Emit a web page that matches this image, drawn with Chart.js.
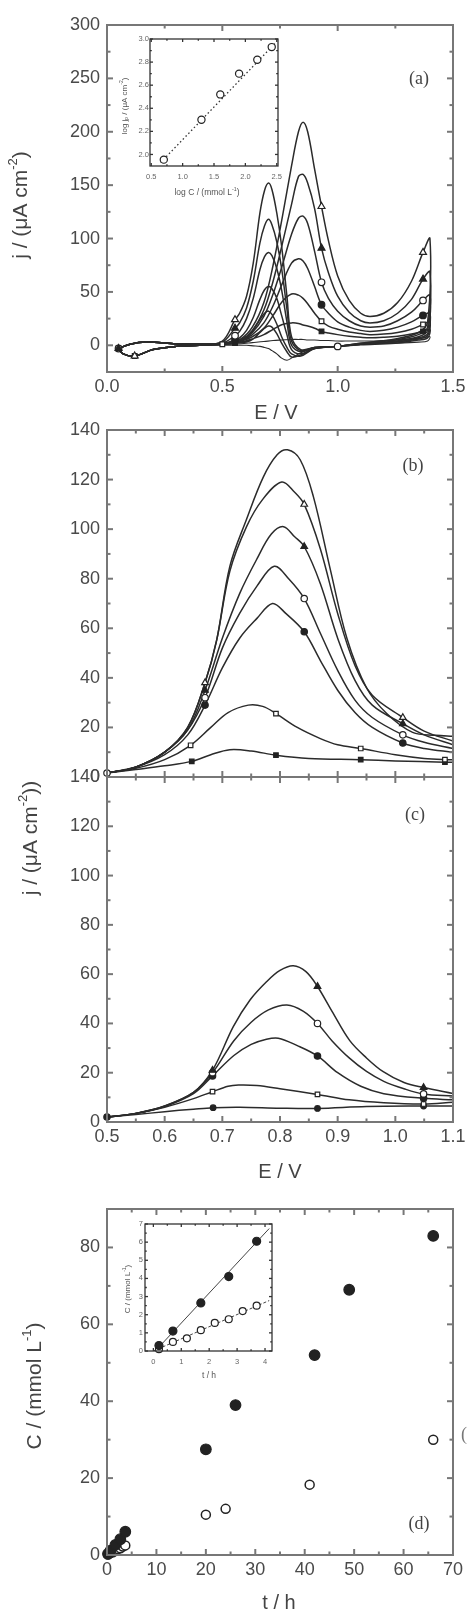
<!DOCTYPE html>
<html><head><meta charset="utf-8">
<script src="https://cdn.jsdelivr.net/npm/chart.js@4.4.0/dist/chart.umd.min.js"></script>
<style>
html,body{margin:0;padding:0;background:#fff;}
#wrap{position:relative;width:467px;height:1610px;overflow:hidden;background:#fff;}
canvas{position:absolute;left:0;}
</style></head><body><div id="wrap">
<canvas id="cA" style="top:0px" width="467" height="430"></canvas>
<canvas id="cAi" style="top:0px" width="467" height="430"></canvas>
<canvas id="cB" style="top:400px" width="467" height="400"></canvas>
<canvas id="cC" style="top:760px" width="467" height="450"></canvas>
<canvas id="cD" style="top:1180px" width="467" height="430"></canvas>
<canvas id="cDi" style="top:1180px" width="467" height="430"></canvas>
</div>
<script>
// ---------------- DATA ----------------
// Panel (a): cyclic voltammograms (forward + reverse scan), E / V and j / (uA cm-2)
const aE = [0.05,0.1,0.17,0.3,0.45,0.52,0.58,0.63,0.68,0.72,0.76,0.8,0.83,0.85,0.87,0.9,0.93,0.96,1.0,1.05,1.1,1.14,1.2,1.26,1.32,1.37,1.4,
            1.39,1.35,1.25,1.1,1.0,0.9,0.84,0.8,0.78,0.757,0.736,0.715,0.7,0.683,0.663,0.634,0.605,0.575,0.555,0.5,0.4,0.3,0.2,0.12,0.07,0.05];
const aJ0 = [-3,1,3,1.5,1,2,6,17,40,75,120,168,200,209,200,165,130,98,65,42,30,27,30,40,60,87,100,
             22,12,6,2,-1,-2,-4,8,46,93,124,146,152,145,124,77,46,30,24,4,0,-1,-4,-10,-8,-3];
const aJ1 = [-3,1,3,1.5,1,2,5,14,33,60,95,132,158,160,152,128,91,68,46,31,23,21,23,30,43,62,69,
             17,10,5,2,-1,-2,-5,4,34,72,97,113,118,112,96,60,35,21,16,3,0,-1,-4,-10,-8,-3];
const aJ2 = [-3,1,3,1.5,1,2,5,12,27,48,75,104,119,121,114,88,59,44,32,23,18,17,18,23,31,42,47,
             14,8,4,1,-1,-2,-6,0,22,52,72,84,87,83,71,44,25,13,9,2,0,-1,-4,-10,-8,-3];
const aJ3 = [-3,1,3,1.5,1,2,4,10,21,37,58,77,81,79,72,55,38,30,22,17,14,13,14,17,22,28,30,
             11,7,3,1,-1,-3,-8,-4,10,28,44,53,55,52,43,26,14,7,5,1.5,0,-1,-4,-10,-8,-3];
const aJ4 = [-3,1,3,1.5,1,2,4,8,16,28,41,48,47,44,39,30,22.5,18,15,12.5,11,10,10.5,12,15,19.5,22,
             9,6,3,1,-1,-3,-10,-8,-2,8,20,29,32,30,24,14,7,4,3,1,0,-1,-4,-10,-8,-3];
const aJ5 = [-3,1,3,1.5,1,1.5,3,6,10,15,19.5,21,20.5,19,18,16,13,11.5,10,8.5,7.5,7,7.5,8.5,10.5,13,15,
             7,5,2,0.5,-1,-3,-9,-11,-6,2,11,17,18,16,12,6,3,2.5,2,1,0,-1,-4,-10,-8,-3];
const aJb = [-3,1,3,1.5,1,1,1.5,2.5,3.5,4.5,5,5.5,5.5,5.5,5,5,4.5,4.5,4,4,4,4,4.5,5,6,7,8,
             4,3,2,1,-1,-3,-7,-12,-14,-12,-8,-5,-3,-2,-1,-0.5,0,0,0,0,0,-1,-4,-10,-8,-3];
// markers on the (a) curves
const aM0E = [0.93,1.37,0.555,0.12], aM0J = [130,87,24,-10];
const aM1E = [0.93,1.37,0.555,0.05], aM1J = [91,62,16,-3];
const aM2E = [0.93,1.37,0.555,1.0,0.05], aM2J = [59,42,9,-1,-3];
const aM3E = [0.93,1.37,0.555], aM3J = [38,28,5];
const aM4E = [0.93,1.37,0.5,0.12], aM4J = [22.5,19.5,1,-10];
const aM5E = [0.93,1.37,0.555,0.05], aM5J = [13,13,2,-3];

// Inset (a): log jp vs log C
const insALogC = [0.7,1.3,1.6,1.9,2.19,2.42];
const insALogJ = [1.955,2.30,2.52,2.70,2.82,2.93];
const insAFitX = [0.65,2.47], insAFitY = [1.93,2.96];

// Panel (b)
const b0E = [0.5,0.55,0.6,0.64,0.67,0.69,0.713,0.742,0.771,0.795,0.813,0.835,0.858,0.887,0.916,0.95,0.985,1.03,1.07,1.1];
const b0J = [1.6,4,10,20,38,55,85,104,121,130,132,128,113,84,56,36,25.6,18,16.8,16.4];
const b1E = [0.5,0.55,0.6,0.64,0.67,0.69,0.713,0.742,0.77,0.803,0.825,0.842,0.87,0.9,0.93,0.96,1.013,1.05,1.1];
const b1J = [1.6,4,10,20,38,55,83,101,112,119,115,110,92,66,45,33,24,18.5,14.5];
const b2E = [0.5,0.55,0.6,0.64,0.67,0.7,0.73,0.76,0.785,0.806,0.825,0.842,0.87,0.9,0.93,0.96,1.013,1.05,1.1];
const b2J = [1.6,4,10,19,35,56,74,88,98,101,97,93,78,56,39,29,21.5,17,13];
const b3E = [0.5,0.55,0.6,0.64,0.67,0.7,0.73,0.76,0.79,0.815,0.842,0.87,0.9,0.93,0.96,1.013,1.05,1.1];
const b3J = [1.6,4,10,19,32,52,66,77,85,80,72,58,43,31,24,17,14,11.5];
const b4E = [0.5,0.55,0.6,0.64,0.67,0.7,0.73,0.76,0.787,0.81,0.842,0.87,0.9,0.93,0.96,1.013,1.05,1.1];
const b4J = [1.6,4,9,17,29,44,56,64,70,66,58.6,47,35,26,20,13.7,11.5,10];
const b5E = [0.5,0.55,0.6,0.645,0.68,0.71,0.745,0.77,0.793,0.83,0.87,0.9,0.94,1.0,1.05,1.086,1.1];
const b5J = [1.6,3.5,7,12.8,20,26,29,28.5,25.6,20,15.5,13,11.5,9,7.5,7,7];
const b6E = [0.5,0.55,0.6,0.647,0.68,0.713,0.75,0.793,0.85,0.94,1.0,1.086,1.1];
const b6J = [1.6,3,4.5,6.3,9,11,10.5,8.8,7.5,7,6.5,6,6];
const bM1E = [0.67,0.842,1.013], bM1J = [38,110,24];
const bM2E = [0.67,0.842,1.013], bM2J = [35,93,21.5];
const bM3E = [0.67,0.842,1.013,0.5], bM3J = [32,72,17,1.6];
const bM4E = [0.67,0.842,1.013], bM4J = [29,58.6,13.7];
const bM5E = [0.645,0.793,0.94,1.086], bM5J = [12.8,25.6,11.5,7];
const bM6E = [0.647,0.793,0.94,1.086], bM6J = [6.3,8.8,7,6];

// Panel (c)
const c0E = [0.5,0.55,0.6,0.65,0.683,0.719,0.748,0.777,0.8,0.823,0.845,0.865,0.89,0.921,0.95,0.979,1.015,1.049,1.1];
const c0J = [2,3.5,6.5,12,21,38.7,49.5,57,61.5,63.4,61,55,45,33,26,20.4,16,14,11.6];
const c1E = [0.5,0.55,0.6,0.65,0.683,0.72,0.75,0.78,0.812,0.84,0.865,0.89,0.92,0.95,0.98,1.015,1.049,1.1];
const c1J = [2,3.5,6.5,12,20,33,40.5,45.5,47.5,45,40,33,26,20.5,16.5,13.5,11.4,10.5];
const c2E = [0.5,0.55,0.6,0.65,0.683,0.72,0.75,0.775,0.797,0.83,0.865,0.9,0.94,0.98,1.049,1.1];
const c2J = [2,3.5,6.3,11.5,18.7,27,31.5,33.5,34,31,26.8,20,14.5,11.5,9.6,9];
const c3E = [0.5,0.55,0.6,0.65,0.683,0.71,0.728,0.76,0.8,0.865,0.92,0.98,1.049,1.1];
const c3J = [2,3.5,6,9.5,12.3,14.5,15,14.8,13.5,11.2,9,7.8,7.3,8];
const c4E = [0.5,0.55,0.6,0.65,0.684,0.73,0.8,0.865,0.95,1.049,1.1];
const c4J = [2,3,4.2,5.2,5.8,6,5.6,5.5,6.3,6.5,6.5];
const cM0E = [0.683,0.865,1.049], cM0J = [21,55,14];
const cM1E = [0.683,0.865,1.049], cM1J = [20,40,11.4];
const cM2E = [0.683,0.865,1.049,0.5], cM2J = [18.7,26.8,9.6,2];
const cM3E = [0.683,0.865,1.049], cM3J = [12.3,11.2,7.3];
const cM4E = [0.684,0.865,1.049], cM4J = [5.8,5.5,6.5];

// Panel (d): C / (mmol L-1) vs t / h
const dFilledT = [0.2,0.7,1.7,2.7,3.7,20,26,42,49,66];
const dFilledC = [0.3,1.1,2.65,4.1,6.05,27.5,39,52,69,83];
const dOpenT = [0.2,0.7,1.2,1.7,2.2,2.7,3.2,3.7,20,24,41,66];
const dOpenC = [0.1,0.5,0.7,1.15,1.55,1.75,2.2,2.5,10.5,12,18.3,30];
const insDFitFilledT = [0.1,4.15], insDFitFilledC = [0.05,6.75];
const insDFitOpenT = [0.0,4.15], insDFitOpenC = [0.0,2.78];

// Tick values / labels
const aXMajor = [0,0.5,1,1.5], aXMinor = [0.25,0.75,1.25], aXText = ['0.0','0.5','1.0','1.5'];
const aYMajor = [0,50,100,150,200,250,300], aYMinor = [25,75,125,175,225,275];
const aYText = ['0','50','100','150','200','250','300'];
const eXMajor = [0.5,0.6,0.7,0.8,0.9,1.0,1.1], eXMinor = [0.55,0.65,0.75,0.85,0.95,1.05];
const eXText = ['0.5','0.6','0.7','0.8','0.9','1.0','1.1'];
const jYMajor = [0,20,40,60,80,100,120,140], jYMinor = [10,30,50,70,90,110,130];
const jYText = ['0','20','40','60','80','100','120','140'];
const dXMajor = [0,10,20,30,40,50,60,70], dXMinor = [5,15,25,35,45,55,65];
const dXText = ['0','10','20','30','40','50','60','70'];
const dYMajor = [0,20,40,60,80], dYMinor = [10,30,50,70];
const dYText = ['0','20','40','60','80'];
const iaXMajor = [0.5,1.0,1.5,2.0,2.5], iaXMinor = [0.75,1.25,1.75,2.25];
const iaXText = ['0.5','1.0','1.5','2.0','2.5'];
const iaYMajor = [2.0,2.2,2.4,2.6,2.8,3.0], iaYMinor = [2.1,2.3,2.5,2.7,2.9];
const iaYText = ['2.0','2.2','2.4','2.6','2.8','3.0'];
const idXMajor = [0,1,2,3,4], idXMinor = [0.5,1.5,2.5,3.5], idXText = ['0','1','2','3','4'];
const idYMajor = [0,1,2,3,4,5,6,7], idYMinor = [0.5,1.5,2.5,3.5,4.5,5.5,6.5];
const idYText = ['0','1','2','3','4','5','6','7'];

// ---------------- HELPERS ----------------
const SANS = '"Liberation Sans", Arial, sans-serif';
const SERIF = '"Liberation Serif", "Times New Roman", serif';
const LINE = '#2b2b2b';
function zip(xs, ys){ return xs.map((x,i)=>({x:x,y:ys[i]})); }
function lineDS(xs, ys, w, extra){ return Object.assign({data:zip(xs,ys), showLine:true, borderColor:LINE, borderWidth:w||1.5, pointRadius:0, tension:0.35, fill:false, order:2}, extra||{}); }
function markDS(xs, ys, style, filled, r){ return {data:zip(xs,ys), showLine:false, pointStyle:style, pointRadius:r||3.5, pointBackgroundColor:filled?'#222':'#fff', pointBorderColor:'#222', pointBorderWidth:1.2, order:0, clip:false}; }

function drawRich(ctx, segs, x, y, size, fam, color, rot){
  ctx.save(); ctx.translate(x,y); if(rot) ctx.rotate(rot);
  let w=0;
  const parts = segs.map(s=>{ const k=s[1]||0; const fs = k? size*0.62 : size; ctx.font = fs+'px '+fam; const ww = ctx.measureText(s[0]).width; w+=ww; return {t:s[0],k:k,fs:fs,ww:ww}; });
  let cx=-w/2;
  ctx.fillStyle=color; ctx.textBaseline='middle'; ctx.textAlign='left';
  for(const p of parts){ ctx.font=p.fs+'px '+fam; const dy = p.k===1? -size*0.36 : (p.k===2? size*0.22 : 0); ctx.fillText(p.t,cx,dy); cx+=p.ww; }
  ctx.restore();
}

function deco(o){
  return {
    id: o.id,
    beforeDatasetsDraw(chart){
      if(o.white){ const a=chart.chartArea, c=chart.ctx; c.save(); c.fillStyle='#fff'; c.fillRect(a.left,a.top,a.right-a.left,a.bottom-a.top); c.restore(); }
    },
    afterDatasetsDraw(chart){
      const c=chart.ctx, a=chart.chartArea, xs=chart.scales.x, ys=chart.scales.y;
      c.save();
      c.strokeStyle=o.frame; c.lineWidth=o.lw;
      const ln=(x1,y1,x2,y2)=>{ c.beginPath(); c.moveTo(x1,y1); c.lineTo(x2,y2); c.stroke(); };
      const tx=(vals,len)=>{ for(const v of vals){ const p=xs.getPixelForValue(v); ln(p,a.bottom,p,a.bottom-len); ln(p,a.top,p,a.top+len); } };
      const ty=(vals,len)=>{ for(const v of vals){ const p=ys.getPixelForValue(v); ln(a.left,p,a.left+len,p); ln(a.right,p,a.right-len,p); } };
      tx(o.xMaj,o.maj); tx(o.xMin,o.min); ty(o.yMaj,o.maj); ty(o.yMin,o.min);
      c.strokeRect(a.left,a.top,a.right-a.left,a.bottom-a.top);
      c.fillStyle=o.lc; c.font=o.fs+'px '+SANS; c.textBaseline='middle';
      if(o.xText){ c.textAlign='center'; o.xVals.forEach((v,i)=>{ c.fillText(o.xText[i], xs.getPixelForValue(v), a.bottom+o.xGap); }); }
      if(o.yText){ c.textAlign='right'; o.yVals.forEach((v,i)=>{ c.fillText(o.yText[i], a.left-o.yGap, ys.getPixelForValue(v)); }); }
      c.restore();
      for(const t of (o.texts||[])) drawRich(chart.ctx, t.segs, t.x, t.y, t.size, t.fam||SANS, t.color||'#444', t.rot||0);
    }
  };
}

function mk(id, datasets, xr, yr, pad, plug){
  return new Chart(document.getElementById(id), {
    type:'scatter', data:{datasets:datasets},
    options:{responsive:false, animation:false, devicePixelRatio:1, events:[],
      layout:{padding:pad},
      plugins:{legend:{display:false}, tooltip:{enabled:false}},
      scales:{x:{type:'linear',min:xr[0],max:xr[1],display:false}, y:{type:'linear',min:yr[0],max:yr[1],display:false}}},
    plugins:[plug]
  });
}
const ROT = -Math.PI/2;
const LC = '#4a4a4a', FR = '#777';

// ---------------- PANEL (a) ----------------
mk('cA', [
  markDS(aM0E,aM0J,'triangle',false,4), markDS(aM1E,aM1J,'triangle',true,4), markDS(aM2E,aM2J,'circle',false,3.3),
  markDS(aM3E,aM3J,'circle',true,3.3), markDS(aM4E,aM4J,'rect',false,3.3), markDS(aM5E,aM5J,'rect',true,3.3),
  lineDS(aE,aJ0), lineDS(aE,aJ1), lineDS(aE,aJ2), lineDS(aE,aJ3), lineDS(aE,aJ4), lineDS(aE,aJ5), lineDS(aE,aJb,1.1)
], [0,1.5], [-25,300], {left:107,right:14,top:25,bottom:58},
  deco({id:'dA', frame:FR, lw:2, maj:6, min:3.5, xMaj:aXMajor, xMin:aXMinor, yMaj:aYMajor, yMin:aYMinor,
    lc:LC, fs:18, xVals:aXMajor, xText:aXText, xGap:15, yVals:aYMajor, yText:aYText, yGap:7,
    texts:[
      {segs:[['j / (\u03BCA cm'],['-2',1],[')']], x:21, y:205, size:21, rot:ROT},
      {segs:[['E / V']], x:276, y:413, size:20},
      {segs:[['(a)']], x:419, y:79, size:18, fam:SERIF}
    ]}));

// Inset (a)
mk('cAi', [
  markDS(insALogC, insALogJ, 'circle', false, 3.6),
  lineDS(insAFitX, insAFitY, 1.3, {borderDash:[1.5,2.5], tension:0, borderColor:'#333'})
], [0.48,2.52], [1.9,3.0], {left:150,right:189,top:39,bottom:264},
  deco({id:'dAi', white:true, frame:'#333', lw:1.3, maj:3, min:1.8, xMaj:iaXMajor, xMin:iaXMinor, yMaj:iaYMajor, yMin:iaYMinor,
    lc:'#666', fs:7.5, xVals:iaXMajor, xText:iaXText, xGap:11, yVals:iaYMajor, yText:iaYText, yGap:1,
    texts:[
      {segs:[['log j'],['p',2],[' / (\u03BCA cm'],['-2',1],[')']], x:125, y:106, size:8, rot:ROT, color:'#555'},
      {segs:[['log C / (mmol L'],['-1',1],[')']], x:207, y:193, size:8.5, color:'#555'}
    ]}));

// ---------------- PANEL (b) ----------------
mk('cB', [
  markDS(bM1E,bM1J,'triangle',false,3.8), markDS(bM2E,bM2J,'triangle',true,3.8), markDS(bM3E,bM3J,'circle',false,3.2),
  markDS(bM4E,bM4J,'circle',true,3.2), markDS(bM5E,bM5J,'rect',false,3.2), markDS(bM6E,bM6J,'rect',true,3.2),
  lineDS(b0E,b0J), lineDS(b1E,b1J), lineDS(b2E,b2J), lineDS(b3E,b3J), lineDS(b4E,b4J), lineDS(b5E,b5J), lineDS(b6E,b6J)
], [0.5,1.1], [0,140], {left:107,right:14,top:30,bottom:23},
  deco({id:'dB', frame:FR, lw:2, maj:6, min:3.5, xMaj:eXMajor, xMin:eXMinor, yMaj:jYMajor, yMin:jYMinor,
    lc:LC, fs:18, yVals:jYMajor, yText:jYText, yGap:7,
    texts:[{segs:[['(b)']], x:413, y:66.7, size:18, fam:SERIF}]}));

// ---------------- PANEL (c) ----------------
mk('cC', [
  markDS(cM0E,cM0J,'triangle',true,3.8), markDS(cM1E,cM1J,'circle',false,3.2), markDS(cM2E,cM2J,'circle',true,3.2),
  markDS(cM3E,cM3J,'rect',false,3.2), markDS(cM4E,cM4J,'circle',true,2.8),
  lineDS(c0E,c0J), lineDS(c1E,c1J), lineDS(c2E,c2J), lineDS(c3E,c3J), lineDS(c4E,c4J)
], [0.5,1.1], [0,140], {left:107,right:14,top:17,bottom:88},
  deco({id:'dC', frame:FR, lw:2, maj:6, min:3.5, xMaj:eXMajor, xMin:eXMinor, yMaj:jYMajor, yMin:jYMinor,
    lc:LC, fs:18, xVals:eXMajor, xText:eXText, xGap:15, yVals:jYMajor, yText:jYText, yGap:7,
    texts:[
      {segs:[['j / (\u03BCA cm'],['-2',1],['))']], x:31, y:838-760, size:21, rot:ROT},
      {segs:[['E / V']], x:280, y:1172-760, size:20},
      {segs:[['(c)']], x:415, y:815-760, size:18, fam:SERIF}
    ]}));

// ---------------- PANEL (d) ----------------
mk('cD', [
  markDS(dFilledT, dFilledC, 'circle', true, 5.3),
  {data:zip(dOpenT,dOpenC), showLine:false, pointStyle:'circle', pointRadius:4.5, pointBackgroundColor:'#fff', pointBorderColor:'#222', pointBorderWidth:1.5, order:1, clip:false}
], [0,70], [0,90], {left:107,right:14,top:29,bottom:55},
  deco({id:'dD', frame:FR, lw:2, maj:6, min:3.5, xMaj:dXMajor, xMin:dXMinor, yMaj:dYMajor, yMin:dYMinor,
    lc:LC, fs:18, xVals:dXMajor, xText:dXText, xGap:15, yVals:dYMajor, yText:dYText, yGap:7,
    texts:[
      {segs:[['C / (mmol L'],['-1',1],[')']], x:35, y:1386-1180, size:21, rot:ROT},
      {segs:[['t / h']], x:279, y:1603-1180, size:20},
      {segs:[['(d)']], x:419, y:1524-1180, size:18, fam:SERIF},
      {segs:[['(']], x:464, y:1435-1180, size:18, fam:SERIF, color:'#777'}
    ]}));

// Inset (d)
mk('cDi', [
  markDS(dFilledT.slice(0,5), dFilledC.slice(0,5), 'circle', true, 4),
  markDS(dOpenT.slice(0,8), dOpenC.slice(0,8), 'circle', false, 3.5),
  lineDS(insDFitFilledT, insDFitFilledC, 1, {tension:0, borderColor:'#444'}),
  lineDS(insDFitOpenT, insDFitOpenC, 1, {tension:0, borderColor:'#444', borderDash:[3,2]})
], [-0.3,4.25], [0,7], {left:145,right:195,top:44,bottom:259},
  deco({id:'dDi', white:true, frame:'#333', lw:1.3, maj:3, min:1.8, xMaj:idXMajor, xMin:idXMinor, yMaj:idYMajor, yMin:idYMinor,
    lc:'#666', fs:7.5, xVals:idXMajor, xText:idXText, xGap:11, yVals:idYMajor, yText:idYText, yGap:2,
    texts:[
      {segs:[['C / (mmol L'],['-1',1],[')']], x:128, y:1289-1180, size:8, rot:ROT, color:'#555'},
      {segs:[['t / h']], x:209, y:1376-1180, size:8.5, color:'#555'}
    ]}));
</script></body></html>
